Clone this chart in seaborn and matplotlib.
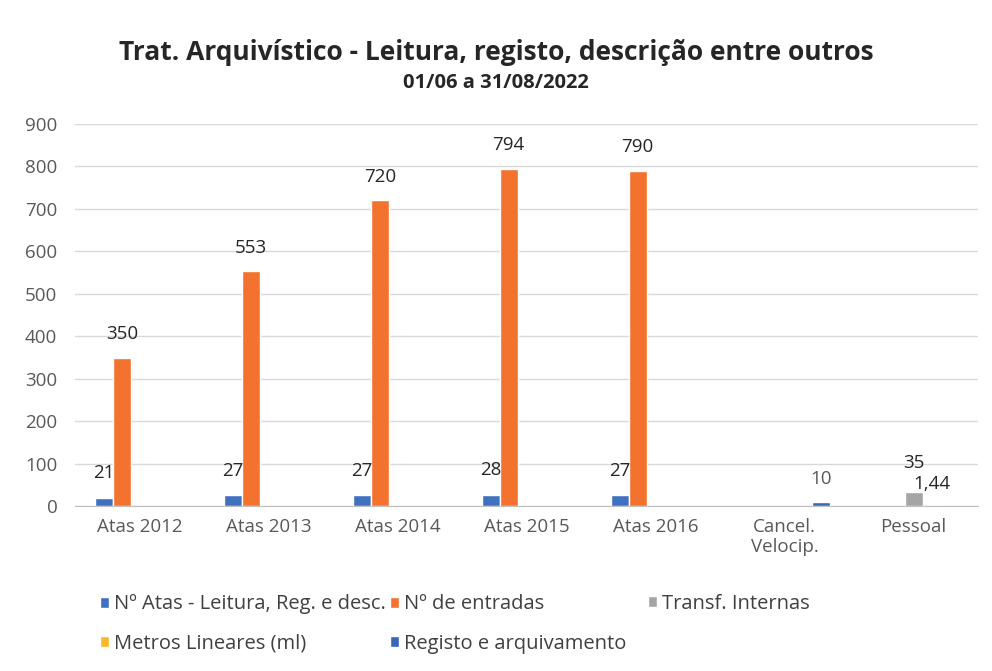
import numpy as np
import pandas as pd
import matplotlib
matplotlib.use("Agg")
import matplotlib.pyplot as plt
import seaborn as sns

# dados
categorias = ["Atas 2012", "Atas 2013", "Atas 2014", "Atas 2015", "Atas 2016",
              "Cancel.\nVelocip.", "Pessoal"]
series = ["Nº Atas - Leitura, Reg. e desc.", "Nº de entradas", "Transf. Internas",
          "Metros Lineares (ml)", "Registo e arquivamento"]
n_atas = [21, 27, 27, 28, 27, np.nan, np.nan]
n_entradas = [350, 553, 720, 794, 790, np.nan, np.nan]
transf_internas = [np.nan, np.nan, np.nan, np.nan, np.nan, np.nan, 35]
metros_lineares = [np.nan, np.nan, np.nan, np.nan, np.nan, np.nan, 1.44]
registo_arquivo = [np.nan, np.nan, np.nan, np.nan, np.nan, 10, np.nan]
cores = ["#4070C0", "#F2722E", "#A5A5A5", "#FDB52B", "#3A66B8"]

df = pd.DataFrame({
    "categoria": categorias,
    series[0]: n_atas,
    series[1]: n_entradas,
    series[2]: transf_internas,
    series[3]: metros_lineares,
    series[4]: registo_arquivo,
})
long = df.melt(id_vars="categoria", var_name="serie", value_name="valor").dropna()

sns.set_style("white")
plt.rcParams['font.family'] = ['Open Sans', 'DejaVu Sans']

fig = plt.figure(figsize=(9.92, 6.71), dpi=100)
ax = fig.add_axes([0.076, 0.2452, 0.910, 0.570])

sns.barplot(data=long, x="categoria", y="valor", hue="serie", order=categorias,
            hue_order=series, palette=cores, width=0.7, gap=0, ax=ax,
            saturation=1, legend=True, err_kws={'linewidth': 0})

ax.set_ylim(0, 900)
ax.set_yticks(range(0, 901, 100))
ax.yaxis.grid(True, color="#D9D9D9", linewidth=1)
ax.set_axisbelow(True)
for s in ["top", "right", "left"]:
    ax.spines[s].set_visible(False)
ax.spines["bottom"].set_color("#BFBFBF")
ax.tick_params(axis="x", length=0, labelsize=13.5, labelcolor="#595959", pad=8)
ax.tick_params(axis="y", length=0, labelsize=13.5, labelcolor="#595959", pad=13)
ax.set_xlabel("")
ax.set_ylabel("")

# rótulos de dados
pads = [11, 10.5, 14, 9, 10]
for serie, cont, pad in zip(series, ax.containers, pads):
    labs = []
    for b in cont:
        h = b.get_height()
        if np.isnan(h) or h == 0:
            labs.append("")
        elif h != int(h):
            labs.append(f"{h:.2f}".replace(".", ","))
        else:
            labs.append(f"{int(h)}")
    cor = "#262626" if serie != series[4] else "#595959"
    ax.bar_label(cont, labels=labs, padding=pad, fontsize=13.5, color=cor)

# legenda em duas linhas
handles, labels = ax.get_legend_handles_labels()
ax.get_legend().remove()
leg_kw = dict(frameon=False, fontsize=14.5, handlelength=0.45, handleheight=0.45,
              handletextpad=0.25, borderpad=0, borderaxespad=0, labelcolor="#404040")
fig.legend([handles[0], handles[3], handles[1], handles[4]],
           [labels[0], labels[3], labels[1], labels[4]],
           ncol=2, loc="center left", bbox_to_anchor=(0.101, 0.070),
           columnspacing=0.2, labelspacing=0.95, **leg_kw)
fig.legend([handles[2]], [labels[2]], loc="center left",
           bbox_to_anchor=(0.653, 0.100), **leg_kw)

fig.text(0.5, 0.922, "Trat. Arquivístico - Leitura, registo, descrição entre outros",
         ha="center", va="center", fontsize=19, fontweight="bold", color="#262626")
fig.text(0.5, 0.876, "01/06 a 31/08/2022", ha="center", va="center",
         fontsize=14.5, fontweight="bold", color="#262626")

fig.savefig("out.png", dpi=100)
